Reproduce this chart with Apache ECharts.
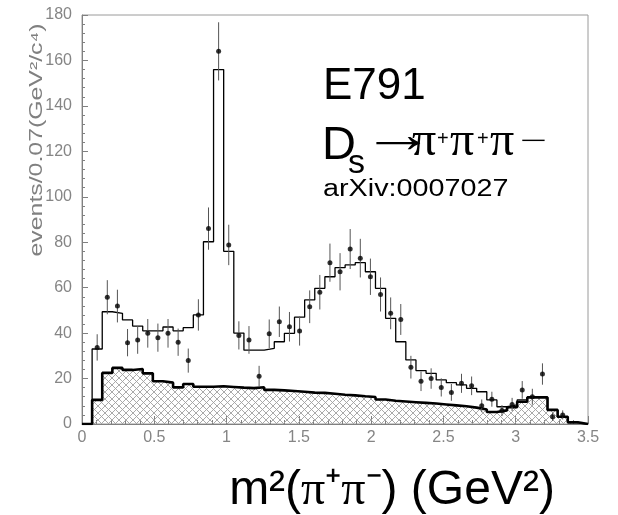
<!DOCTYPE html>
<html lang="en">
<head>
    <meta charset="UTF-8">
    <title>E791 Ds -> pi pi pi</title>
    <script src="https://cdn.jsdelivr.net/npm/echarts@6/dist/echarts.min.js"></script>
    <style>
        html, body { margin: 0; padding: 0; background: #fff; }
        #main { width: 618px; height: 515px; }
    </style>
</head>
<body>
<div id="main"></div>
<script>
    // bin width 0.07 GeV^2, bins start at 0
    var binWidth = 0.07;
    var xTicks = [0, 0.5, 1, 1.5, 2, 2.5, 3, 3.5];
    var yTicks = [0, 20, 40, 60, 80, 100, 120, 140, 160, 180];

    // total fit (thin histogram)
    var fitCounts = [0, 33, 49.4, 48.7, 45.8, 43.1, 41, 41, 42.7, 41,
        42.4, 48, 80.2, 156, 76, 40, 32.5, 32.5, 33.3, 36.2,
        39.9, 47, 54.6, 59.7, 64.8, 68.8, 70, 71, 67, 59.7,
        46.5, 36.2, 28.2, 23.5, 22.3, 19.4, 18.2, 17.2, 15.7, 14.2,
        10.6, 7.6, 8.4, 10.6, 11.7, 11.7, 6.2, 3.2, 0.5, 0];

    // background (thick line, hatched)
    var bgCounts = [0, 10.6, 22.5, 24.7, 23.8, 24.2, 22.3, 18.8, 18.2, 16.1,
        17.6, 16.4, 16.4, 16.6, 16.3, 16.0, 15.8, 16.2, 15.0, 14.8,
        14.5, 14.2, 13.8, 13.7, 13.3, 12.9, 12.6, 12.2, 11.9, 10.8,
        10.2, 9.9, 9.6, 9.3, 9.0, 8.6, 8.2, 7.8, 7.2, 6.4,
        5.3, 6.0, 7.4, 9.8, 11.7, 11.7, 6.2, 3.2, 0.8, 0];

    // data points and their errors
    var dataCounts = [null, 33.7, 55.8, 51.9, 35.8, 37, 39.9, 38, 39.9, 36,
        27.9, 48, 86, 164, 78.8, 39, 37, 21, 39.7, 45,
        42.8, 40.9, 51.6, 58, 71, 67, 77, 73, 64.8, 57,
        48.7, 46, 25, 18.8, 20, 16.1, 13.9, 17.9, 16.8, 8,
        10.9, 5.9, 8.6, 15, 12, 22, 3.2, 4, null, null];
    var dataErrors = [null, 5.8, 7.5, 7.2, 6.0, 6.1, 6.3, 6.2, 6.3, 6.0,
        5.3, 6.9, 9.3, 12.8, 8.9, 6.2, 6.1, 4.6, 6.3, 6.7,
        6.5, 6.4, 7.2, 7.6, 8.4, 8.2, 8.8, 8.5, 8.0, 7.5,
        7.0, 6.8, 5.0, 4.3, 4.5, 4.0, 3.7, 4.2, 4.1, 2.8,
        3.3, 2.4, 2.9, 3.9, 3.5, 4.7, 1.8, 2.0, null, null];

    // step histogram points: left edge of each bin + closing edge
    function histPoints(counts) {
        var pts = [];
        for (var i = 0; i < counts.length; i++) {
            pts.push([+(i * binWidth).toFixed(4), counts[i]]);
        }
        pts.push([+(counts.length * binWidth).toFixed(4), 0]);
        return pts;
    }

    var points = [];
    for (var i = 0; i < dataCounts.length; i++) {
        if (dataCounts[i] == null) continue;
        points.push([(i + 0.5) * binWidth, dataCounts[i], dataErrors[i]]);
    }

    // cross hatch pattern
    var hatch = document.createElement('canvas');
    hatch.width = 7; hatch.height = 7;
    var hc = hatch.getContext('2d');
    hc.strokeStyle = '#a0a0a0';
    hc.lineWidth = 0.9;
    hc.beginPath();
    hc.moveTo(0, 0); hc.lineTo(7, 7);
    hc.moveTo(7, 0); hc.lineTo(0, 7);
    hc.stroke();

    var labelStyle = {color: '#858585', fontSize: 16, fontFamily: 'Liberation Sans'};

    function txt(x, y, str, size, family, extra) {
        var el = {
            type: 'text', x: x, y: y, z: 100,
            style: {
                text: str, fontSize: size, fontFamily: family, fill: '#000',
                textAlign: 'left', textVerticalAlign: 'middle',
                align: 'left', verticalAlign: 'middle'
            }
        };
        for (var k in (extra || {})) el[k] = extra[k];
        return el;
    }

    var myChart = echarts.init(document.getElementById('main'), null, {renderer: 'canvas'});

    var option = {
        animation: false,
        grid: {
            left: 82, top: 15, width: 506, height: 409,
            show: true, borderColor: '#9a9a9a', borderWidth: 1
        },
        xAxis: {
            type: 'value', min: xTicks[0], max: xTicks[xTicks.length - 1], interval: 0.5,
            axisLine: {lineStyle: {color: '#808080', width: 1}},
            axisTick: {inside: true, length: 8, lineStyle: {color: '#808080'}},
            minorTick: {show: true, splitNumber: 5, length: 4, lineStyle: {color: '#808080'}},
            splitLine: {show: false},
            axisLabel: Object.assign({margin: 6}, labelStyle)
        },
        yAxis: {
            type: 'value', min: yTicks[0], max: yTicks[yTicks.length - 1], interval: 20,
            axisLine: {show: true, lineStyle: {color: '#808080', width: 1}},
            axisTick: {show: true, inside: true, length: 6, lineStyle: {color: '#808080'}},
            minorTick: {show: true, splitNumber: 5, length: 3, lineStyle: {color: '#808080'}},
            splitLine: {show: false},
            axisLabel: Object.assign({margin: 10}, labelStyle)
        },
        series: [
            {
                name: 'background', type: 'line', step: 'end', symbol: 'none',
                data: histPoints(bgCounts),
                lineStyle: {color: '#000', width: 2.6},
                areaStyle: {color: {image: hatch, repeat: 'repeat'}, opacity: 1},
                z: 2
            },
            {
                name: 'fit', type: 'line', step: 'end', symbol: 'none',
                data: histPoints(fitCounts),
                lineStyle: {color: '#000', width: 1.3},
                z: 3
            },
            {
                name: 'errors', type: 'custom',
                data: points,
                renderItem: function (params, api) {
                    var x = api.value(0), y = api.value(1), e = api.value(2);
                    var top = api.coord([x, y + e]);
                    var bot = api.coord([x, y - e]);
                    return {
                        type: 'line',
                        shape: {x1: top[0], y1: top[1], x2: bot[0], y2: bot[1]},
                        style: {stroke: '#555', lineWidth: 1}
                    };
                },
                z: 4
            },
            {
                name: 'data', type: 'scatter', symbol: 'circle', symbolSize: 5,
                data: points,
                itemStyle: {color: '#000'},
                z: 5
            }
        ],
        graphic: [
            // y axis title
            {
                type: 'text', x: 37, y: 140, rotation: Math.PI / 2, scaleX: 1.38, z: 100,
                style: {
                    text: 'events/0.07(GeV²/c⁴)', fontSize: 18, fontFamily: 'Liberation Sans', fill: '#808080',
                    textAlign: 'center', textVerticalAlign: 'middle', align: 'center', verticalAlign: 'middle'
                }
            },
            txt(323, 87, 'E791', 44, 'Liberation Sans'),
            txt(322, 146, 'D', 47, 'Liberation Sans'),
            txt(348, 164, 's', 34, 'Liberation Sans'),
            txt(361, 138, '→', 52, 'Liberation Serif', {scaleX: 1.42}),
            txt(412, 142, 'π', 48, 'Liberation Serif'),
            txt(437, 139, '+', 20, 'Liberation Sans'),
            txt(450, 142, 'π', 48, 'Liberation Serif'),
            txt(477, 139, '+', 20, 'Liberation Sans'),
            txt(490, 142, 'π', 48, 'Liberation Serif'),
            txt(520, 141, '−', 20, 'Liberation Sans', {scaleX: 2.3}),
            txt(323, 190, 'arXiv:0007027', 23, 'Liberation Sans', {scaleX: 1.25}),
            // x axis title
            {
                type: 'text', x: 392, y: 491, z: 100,
                style: {
                    text: '{a|m²(}{p|π}{a|⁺}{p|π}{a|⁻) (GeV²)}',
                    textAlign: 'center', textVerticalAlign: 'middle', align: 'center', verticalAlign: 'middle',
                    rich: {
                        a: {fontSize: 48, fontFamily: 'Liberation Sans', fill: '#000'},
                        p: {fontSize: 48, fontFamily: 'Liberation Serif', fill: '#000'}
                    }
                }
            }
        ]
    };

    myChart.setOption(option);
</script>
</body>
</html>
